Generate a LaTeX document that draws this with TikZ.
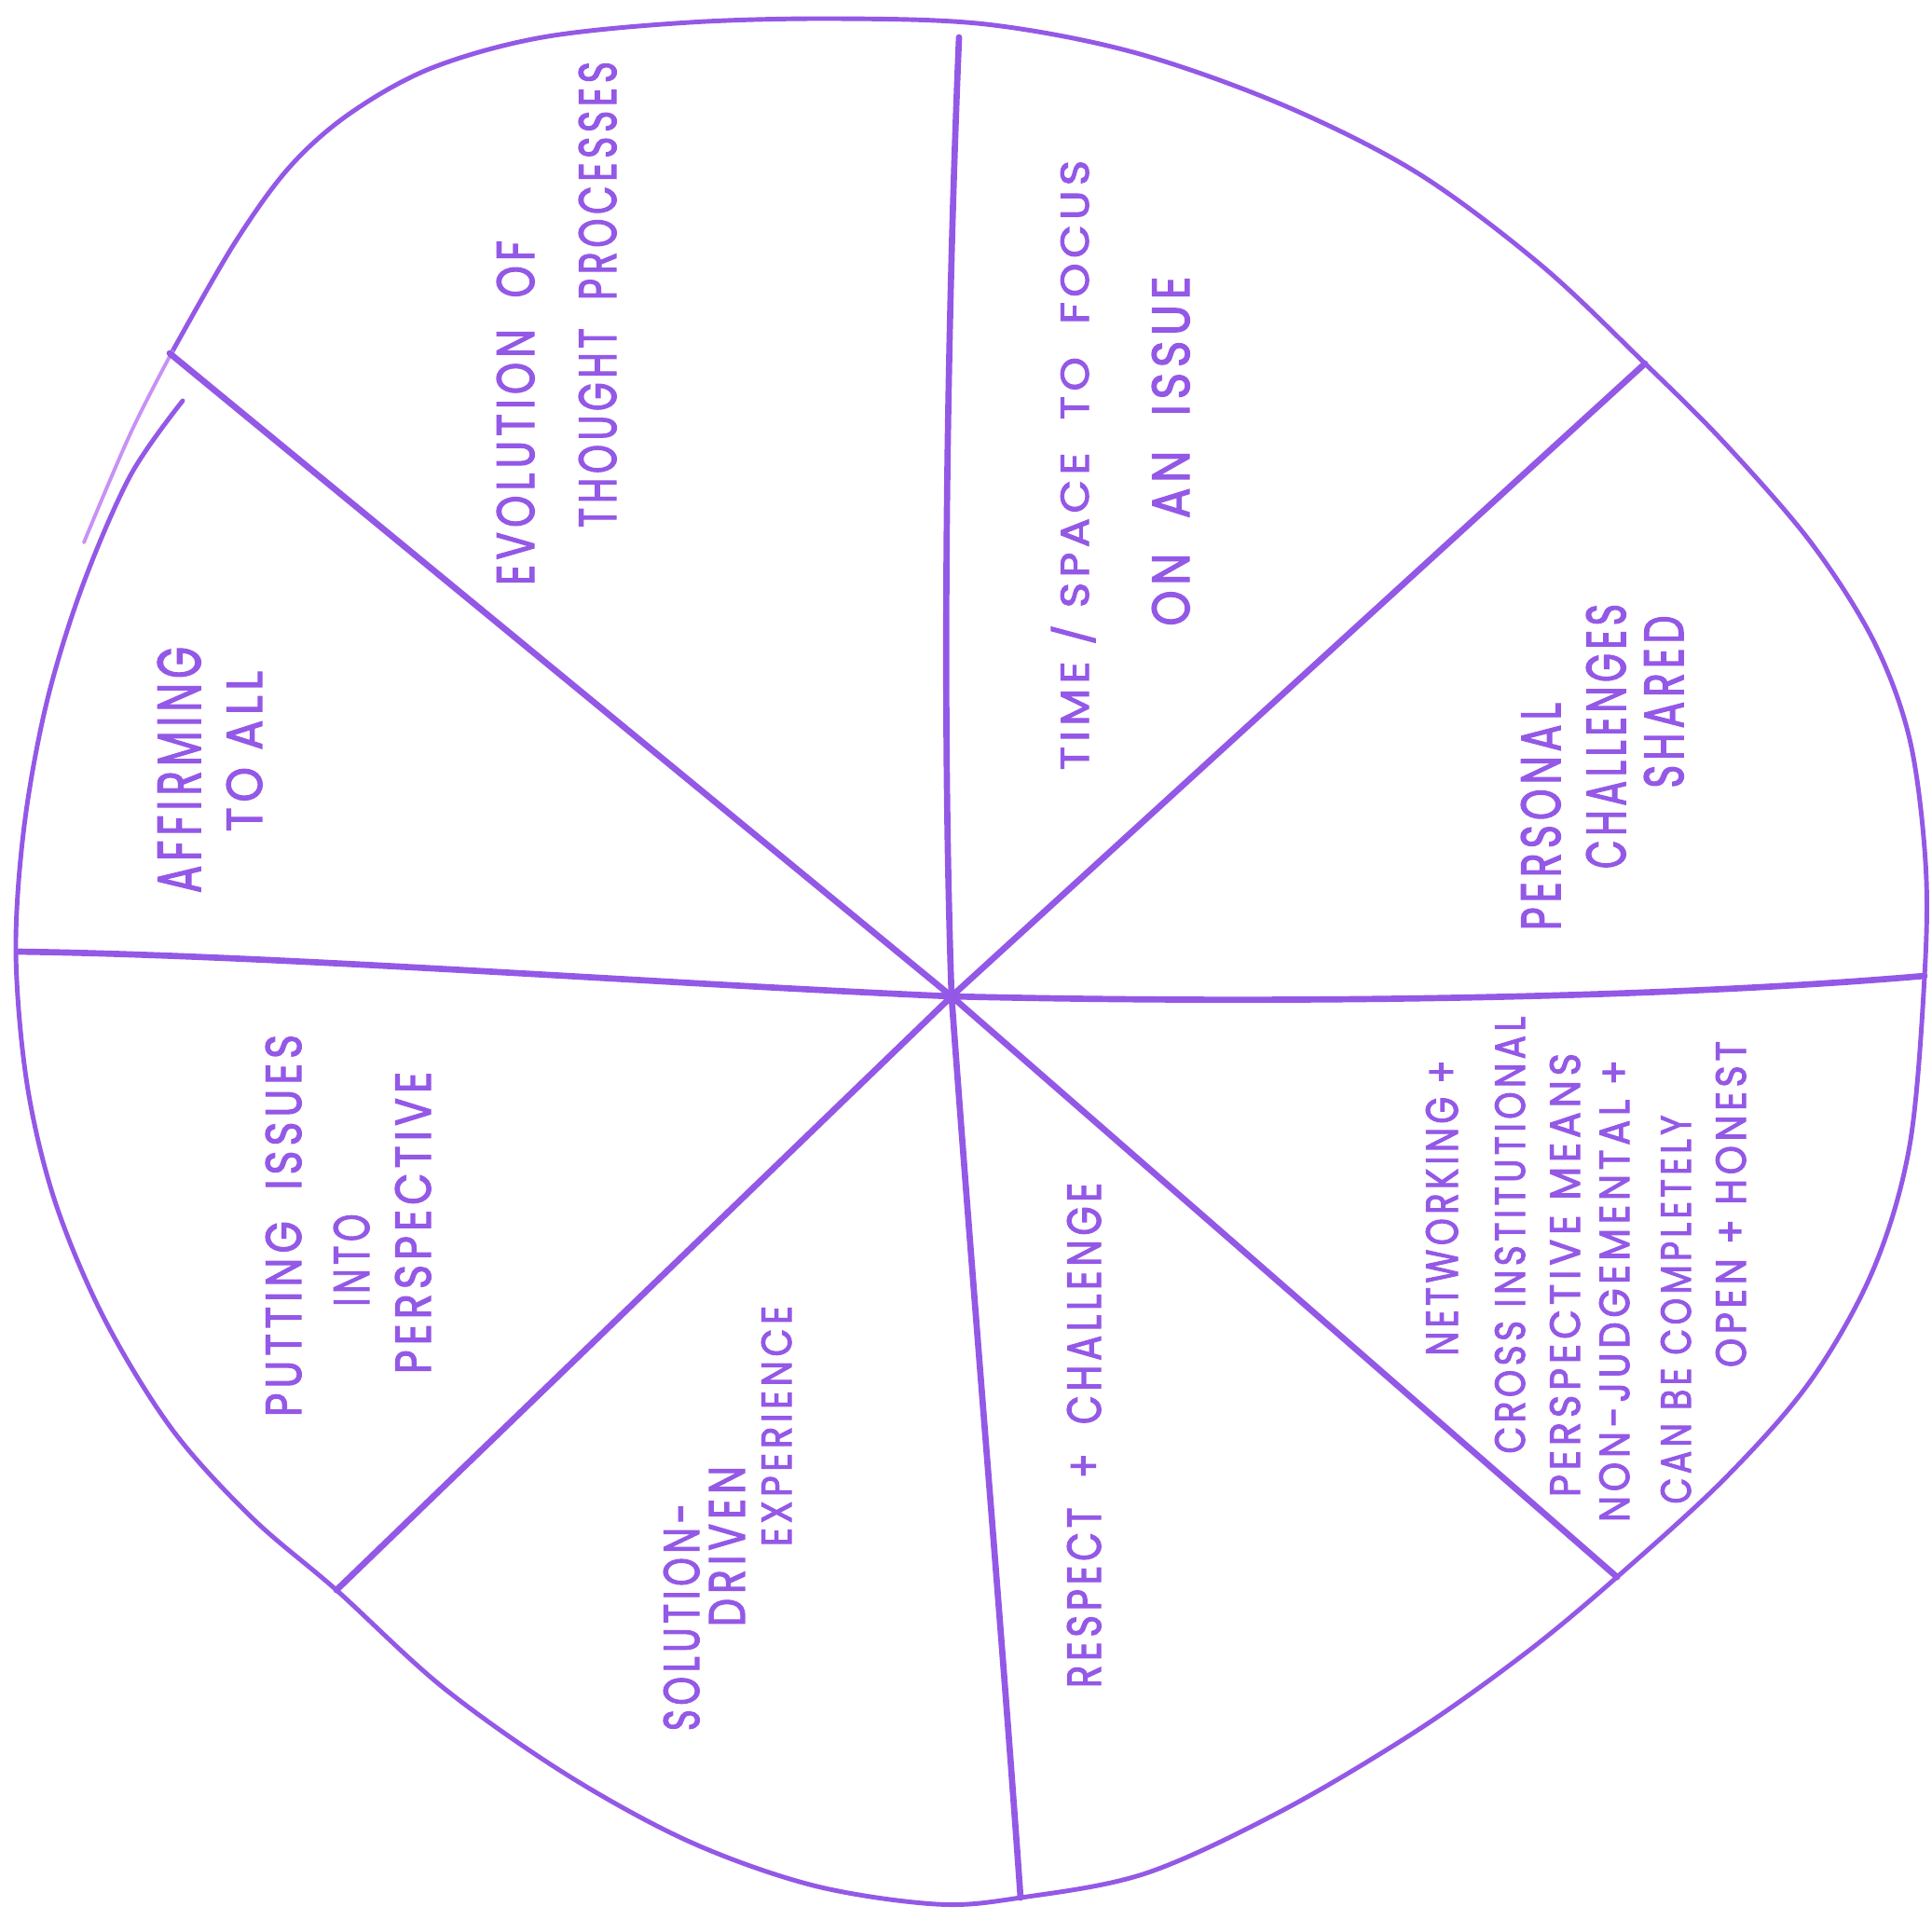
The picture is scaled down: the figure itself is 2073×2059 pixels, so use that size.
\documentclass[tikz,border=0pt]{standalone}
\usepackage{fontspec}
\setmainfont{Poppins}[LetterSpace=12, FakeBold=2.5]
\usepackage{graphicx}
\definecolor{pen}{RGB}{148,88,230}
\definecolor{penlight}{RGB}{200,145,245}
\newdimen\upx \upx=0.01cm
\newcommand\lbl[6]{\node[lbl] (#1) at (#2,-#3) {\resizebox{#4\upx}{#5\upx}{\raisebox{0pt}[\height][0pt]{#6}}};}
\tikzset{
  lbl/.style={rotate=90, inner sep=0pt, text=pen, anchor=center},
  rim/.style={draw=pen, line width=1.4pt, line cap=round, line join=round},
  rimlight/.style={draw=penlight, line width=1.1pt, line cap=round},
  spoke/.style={draw=pen, line width=1.9pt, line cap=round}
}
\begin{document}
\begin{tikzpicture}[x=0.01cm, y=0.01cm]
\useasboundingbox (0,0) rectangle (2073,-2059);
\fill[white] (0,0) rectangle (2073,-2059);

% outline
\draw[rim] plot[smooth, tension=0.55] coordinates {
 (196,-430) (140,-510) (88,-630) (50,-754) (26,-886) (17,-1021)
 (29,-1163) (59,-1289) (112,-1415) (185,-1534) (271,-1629) (361,-1706)
 (476,-1811) (608,-1904) (740,-1976) (873,-2023) (1005,-2043) (1095,-2036)
 (1229,-2010) (1375,-1943) (1520,-1857) (1639,-1772) (1735,-1692)
 (1851,-1586) (1943,-1481) (2010,-1362) (2049,-1229) (2065,-1047)
 (2066,-925) (2049,-793) (2010,-687) (1943,-582) (1851,-476) (1765,-390)
 (1653,-284) (1520,-185) (1375,-112) (1216,-56) (1058,-26) (899,-20)
 (740,-24) (582,-40) (463,-73) (375,-122) (310,-180) (251,-262) (185,-377)};
\draw[rimlight] plot[smooth, tension=0.6] coordinates {(185,-377) (140,-465) (90,-582)};

% spokes
\coordinate (c) at (1021,-1069);
\coordinate (eT) at (1029,-40);
\coordinate (eUR) at (1765,-390);
\coordinate (eR) at (2065,-1047);
\coordinate (eLR) at (1735,-1692);
\coordinate (eB) at (1095,-2036);
\coordinate (eLL) at (361,-1706);
\coordinate (eL) at (20,-1021);
\coordinate (eUL) at (182,-379);
\draw[spoke] (c) .. controls (1010,-750) and (1016,-350) .. (eT);
\draw[spoke] (c) -- (eUR);
\draw[spoke] (c) .. controls (1400,-1078) and (1800,-1070) .. (eR);
\draw[spoke] (c) -- (eLR);
\draw[spoke] (c) .. controls (1045,-1400) and (1075,-1750) .. (eB);
\draw[spoke] (c) -- (eLL);
\draw[spoke] (c) .. controls (700,-1055) and (300,-1025) .. (eL);
\draw[spoke] (c) -- (eUL);

% labels
\lbl{t1}{553}{443}{370}{40}{EVOLUTION \ OF}
\lbl{t2}{641}{316}{500}{40}{THOUGHT \ PROCESSES}
\lbl{t3}{1148}{499}{654}{40}{TIME / SPACE \ TO \ FOCUS}
\lbl{t4}{1256}{484}{375}{40}{ON \ AN \ ISSUE}
\lbl{t5}{1653}{876}{244}{42}{PERSONAL}
\lbl{t6}{1723}{790}{284}{42}{CHALLENGES}
\lbl{t7}{1785}{753}{185}{42}{SHARED}
\lbl{t8}{1547}{1296}{317}{34}{NETWORKING +}
\lbl{t9}{1620}{1325}{469}{32}{CROSS INSTITUTIONAL}
\lbl{t10}{1679}{1368}{476}{32}{PERSPECTIVE MEANS}
\lbl{t11}{1732}{1385}{496}{32}{NON-JUDGEMENTAL +}
\lbl{t12}{1798}{1405}{417}{32}{CAN BE COMPLETELY}
\lbl{t13}{1857}{1292}{350}{32}{OPEN + HONEST}
\lbl{t14}{1163}{1540}{542}{36}{RESPECT \ + \ CHALLENGE}
\lbl{t15}{731}{1735}{244}{38}{SOLUTION-}
\lbl{t16}{780}{1659}{172}{38}{DRIVEN}
\lbl{t17}{833}{1530}{258}{32}{EXPERIENCE}
\lbl{t18}{304}{1315}{410}{38}{PUTTING \ ISSUES}
\lbl{t19}{377}{1352}{99}{38}{INTO}
\lbl{t20}{443}{1312}{324}{38}{PERSPECTIVE}
\lbl{t21}{192}{826}{264}{46}{AFFIRMING}
\lbl{t22}{262}{806}{172}{38}{TO ALL}
\end{tikzpicture}
\end{document}
